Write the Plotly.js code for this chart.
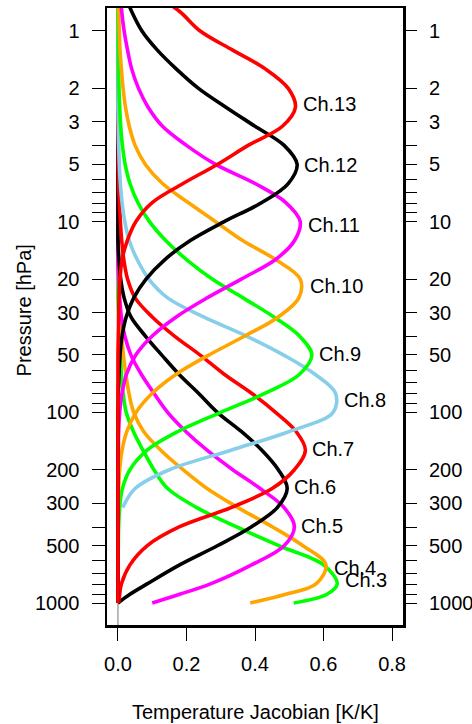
<!DOCTYPE html>
<html>
<head>
<meta charset="utf-8">
<script src="https://cdn.plot.ly/plotly-3.0.1.min.js"></script>
<style>
  html, body { margin: 0; padding: 0; background: #ffffff; }
  #chart { width: 472px; height: 724px; }
</style>
</head>
<body>
<div id="chart"></div>
<script>
// ---- Data: pressure levels (hPa) and Jacobians (K/K) ----
const pLevels = [0.63, 0.79, 1, 1.26, 1.58, 2, 2.51, 3.16, 3.98, 5.01, 6.31, 7.94, 10, 12.6, 15.8, 20, 25.1, 31.6, 39.8, 50.1, 63.1, 79.4, 100, 126, 158, 200, 251, 316, 398, 501, 631, 794, 900, 1000];

const ch3J  = [0, 0, 0, 0, 0, 0, 0, 0, 0, 0, 0, 0, 0, 0, 0, 0, 0, 0.002, 0.004, 0.007, 0.01, 0.015, 0.024, 0.045, 0.073, 0.105, 0.145, 0.23, 0.345, 0.47, 0.6, 0.64, 0.61, 0.513];
const ch4J  = [0, 0, 0, 0, 0, 0, 0, 0, 0, 0, 0, 0, 0, 0, 0, 0.002, 0.004, 0.007, 0.011, 0.016, 0.023, 0.032, 0.046, 0.075, 0.125, 0.19, 0.26, 0.35, 0.45, 0.54, 0.607, 0.578, 0.49, 0.386];
const ch5J  = [0, 0, 0, 0, 0, 0, 0, 0, 0, 0, 0, 0, 0, 0, 0, 0.002, 0.005, 0.01, 0.02, 0.038, 0.068, 0.105, 0.145, 0.198, 0.26, 0.335, 0.415, 0.485, 0.515, 0.485, 0.39, 0.27, 0.18, 0.10];
const ch6J  = [0, 0, 0, 0, 0, 0, 0, 0, 0, 0, 0, 0, 0, 0, 0.003, 0.008, 0.018, 0.038, 0.08, 0.128, 0.178, 0.235, 0.29, 0.36, 0.42, 0.468, 0.494, 0.465, 0.39, 0.29, 0.18, 0.085, 0.035, 0];
const ch7J  = [0, 0, 0, 0, 0, 0, 0, 0, 0.001, 0.001, 0.002, 0.004, 0.007, 0.011, 0.017, 0.028, 0.05, 0.1, 0.165, 0.24, 0.31, 0.39, 0.46, 0.52, 0.547, 0.515, 0.45, 0.33, 0.18, 0.085, 0.035, 0.01, 0.005, 0.002];
const ch8J  = [0, 0, 0, 0, 0, 0, 0, 0.001, 0.002, 0.004, 0.007, 0.012, 0.02, 0.033, 0.056, 0.09, 0.145, 0.25, 0.375, 0.484, 0.575, 0.635, 0.628, 0.5, 0.33, 0.15, 0.05, 0.014, null, null, null, null, null, null];
const ch9J  = [0, 0, 0.001, 0.001, 0.002, 0.003, 0.005, 0.008, 0.013, 0.021, 0.035, 0.058, 0.092, 0.14, 0.2, 0.275, 0.365, 0.455, 0.53, 0.566, 0.53, 0.43, 0.3, 0.175, 0.085, 0.035, 0.013, 0.005, 0.002, 0.001, 0, 0, 0, 0];
const ch10J = [0.001, 0.002, 0.004, 0.006, 0.01, 0.015, 0.022, 0.033, 0.05, 0.08, 0.13, 0.205, 0.285, 0.365, 0.46, 0.532, 0.528, 0.468, 0.37, 0.265, 0.17, 0.1, 0.053, 0.026, 0.012, 0.005, 0.002, 0.001, 0, 0, 0, 0, 0, 0];
const ch11J = [0.007, 0.011, 0.018, 0.028, 0.04, 0.06, 0.088, 0.13, 0.2, 0.285, 0.40, 0.49, 0.532, 0.515, 0.46, 0.36, 0.26, 0.17, 0.1, 0.052, 0.025, 0.012, 0.005, 0.002, 0.001, 0, 0, 0, 0, 0, 0, 0, 0, 0];
const ch12J = [0.018, 0.040, 0.07, 0.115, 0.17, 0.235, 0.315, 0.40, 0.485, 0.523, 0.497, 0.42, 0.31, 0.21, 0.137, 0.082, 0.046, 0.024, 0.012, 0.006, 0.003, 0.001, 0, 0, 0, 0, 0, 0, 0, 0, 0, 0, 0, 0];
const ch13J = [0.10, 0.18, 0.24, 0.335, 0.43, 0.497, 0.518, 0.48, 0.38, 0.29, 0.19, 0.10, 0.052, 0.027, 0.012, 0.006, 0.003, 0.002, 0.001, 0, 0, 0, 0, 0, 0, 0, 0, 0, 0, 0, 0, 0, 0, 0];

const channelNames  = ["Ch.3", "Ch.4", "Ch.5", "Ch.6", "Ch.7", "Ch.8", "Ch.9", "Ch.10", "Ch.11", "Ch.12", "Ch.13"];
const channelColors = ["#00FF00", "#FFA500", "#FF00FF", "#000000", "#FF0000", "#87CEEB", "#00FF00", "#FFA500", "#FF00FF", "#000000", "#FF0000"];
const channelJ = [ch3J, ch4J, ch5J, ch6J, ch7J, ch8J, ch9J, ch10J, ch11J, ch12J, ch13J];

const pTickVals = [1, 2, 3, 4, 5, 6, 7, 8, 9, 10, 20, 30, 40, 50, 60, 70, 80, 90, 100, 200, 300, 400, 500, 600, 700, 800, 900, 1000];
const pTickText = ["1", "2", "3", "", "5", "", "", "", "", "10", "20", "30", "", "50", "", "", "", "", "100", "200", "300", "", "500", "", "", "", "", "1000"];
const xTickVals = [0, 0.2, 0.4, 0.6, 0.8];
const xTickText = ["0.0", "0.2", "0.4", "0.6", "0.8"];

// ---- Build the figure ----
const traces = channelNames.map((name, i) => ({
  type: 'scatter', mode: 'lines', name: name,
  x: channelJ[i], y: pLevels,
  line: {color: channelColors[i], width: 3.6, shape: 'spline', smoothing: 1},
  connectgaps: false, hoverinfo: 'skip'
}));
// empty trace that carries the right-hand pressure axis
traces.push({type: 'scatter', mode: 'lines', x: [], y: [], yaxis: 'y2', showlegend: false, hoverinfo: 'skip'});

// label each curve at its maximum (vertex of the parabola through the top 3 samples, in log-p)
function peakOf(J) {
  let k = 0;
  for (let j = 1; j < J.length; j++) if (J[j] !== null && J[j] > J[k]) k = j;
  const L = pLevels.map(Math.log10);
  if (k === 0 || k === J.length - 1 || J[k - 1] === null || J[k + 1] === null) return [J[k], L[k]];
  const x1 = L[k - 1], x2 = L[k], x3 = L[k + 1], y1 = J[k - 1], y2 = J[k], y3 = J[k + 1];
  const d = (x1 - x2) * (x1 - x3) * (x2 - x3);
  const A = (x3 * (y2 - y1) + x2 * (y1 - y3) + x1 * (y3 - y2)) / d;
  const B = (x3 * x3 * (y1 - y2) + x2 * x2 * (y3 - y1) + x1 * x1 * (y2 - y3)) / d;
  const C = (x2 * x3 * (x2 - x3) * y1 + x3 * x1 * (x3 - x1) * y2 + x1 * x2 * (x1 - x2) * y3) / d;
  const xv = -B / (2 * A);
  return [A * xv * xv + B * xv + C, xv];
}

const labelAnns = channelNames.map((name, i) => {
  const pk = peakOf(channelJ[i]);
  return {
    x: pk[0], y: pk[1], xref: 'x', yref: 'y',
    text: name, showarrow: false, xanchor: 'left', yanchor: 'middle',
    xshift: 5, yshift: 1, font: {size: 20, color: '#000'}
  };
});

const yRange = [3.1154, -0.1206];
const fontFam = 'Liberation Sans, Arial, Helvetica, sans-serif';

const layout = {
  width: 472, height: 724,
  margin: {l: 107, r: 69, t: 8, b: 99, pad: 0},
  paper_bgcolor: '#ffffff', plot_bgcolor: '#ffffff',
  showlegend: false,
  font: {family: fontFam, size: 20, color: '#000'},
  xaxis: {
    range: [-0.032, 0.832], tickvals: xTickVals, ticktext: xTickText,
    ticks: 'outside', ticklen: 13, tickwidth: 1, tickcolor: '#000',
    showgrid: false, zeroline: false,
    showline: true, linewidth: 2.5, linecolor: '#000', mirror: true,
    tickfont: {size: 20}, ticklabelstandoff: 6
  },
  yaxis: {
    type: 'log', range: yRange, tickvals: pTickVals, ticktext: pTickText,
    ticks: 'outside', ticklen: 13, tickwidth: 1, tickcolor: '#000',
    showgrid: false, zeroline: false,
    showline: true, linewidth: 2.5, linecolor: '#000', mirror: true,
    tickfont: {size: 20}, ticklabelstandoff: 8
  },
  yaxis2: {
    type: 'log', range: yRange, overlaying: 'y', side: 'right', anchor: 'x',
    tickvals: pTickVals, ticktext: pTickText,
    ticks: 'outside', ticklen: 13, tickwidth: 1, tickcolor: '#000',
    showgrid: false, zeroline: false, showline: false,
    tickfont: {size: 20}, ticklabelstandoff: 8
  },
  shapes: [{
    type: 'line', xref: 'x', yref: 'paper', x0: 0, x1: 0, y0: 0, y1: 1,
    line: {color: '#777777', width: 1}, layer: 'below'
  }],
  annotations: labelAnns.concat([
    {text: 'Pressure [hPa]', xref: 'paper', yref: 'paper', x: -0.28, y: 0.51,
     textangle: -90, showarrow: false, xanchor: 'center', yanchor: 'middle', font: {size: 20}},
    {text: 'Temperature Jacobian [K/K]', xref: 'paper', yref: 'paper', x: 0.5, y: -0.141,
     showarrow: false, xanchor: 'center', yanchor: 'middle', font: {size: 20}}
  ])
};

Plotly.newPlot('chart', traces, layout, {staticPlot: true, displayModeBar: false});
</script>
</body>
</html>
